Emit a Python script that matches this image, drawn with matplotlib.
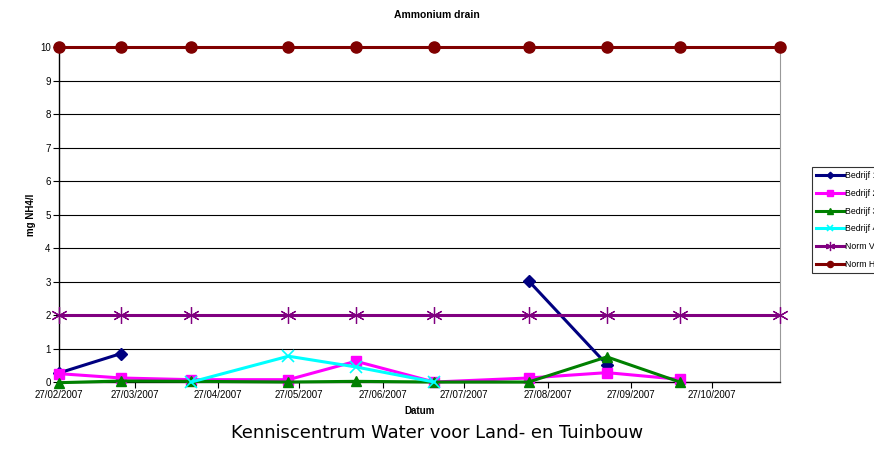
"""
Ammonium drain chart - concentrations per company vs norms.
"""
import matplotlib
matplotlib.use("Agg")
import matplotlib.pyplot as plt
import matplotlib.dates as mdates
import numpy as np
import pandas as pd

dates = ["2007-02-27", "2007-03-22", "2007-04-17", "2007-05-23", "2007-06-17",
         "2007-07-16", "2007-08-20", "2007-09-18", "2007-10-15", "2007-11-21"]
nan = np.nan
bedrijf1 = [0.27, 0.85, nan, nan, nan, nan, 3.02, 0.52, nan, nan]
bedrijf2 = [0.25, 0.12, 0.07, 0.07, 0.62, 0.0, 0.12, 0.28, 0.08, nan]
bedrijf3 = [-0.02, 0.03, 0.02, 0.0, 0.02, 0.0, 0.0, 0.75, 0.0, nan]
bedrijf4 = [nan, nan, 0.0, 0.77, 0.45, 0.0, nan, nan, nan, nan]
norm_v = [2, 2, 2, 2, 2, 2, 2, 2, 2, 2]
norm_h = [10, 10, 10, 10, 10, 10, 10, 10, 10, 10]
labels = ["Bedrijf 1", "Bedrijf 2", "Bedrijf 3", "Bedrijf 4", "Norm VR", "Norm HR"]
tick_dates = ["2007-02-27", "2007-03-27", "2007-04-27", "2007-05-27", "2007-06-27",
              "2007-07-27", "2007-08-27", "2007-09-27", "2007-10-27"]

plt.rcParams["font.family"] = ["Liberation Sans", "DejaVu Sans"]

x = pd.to_datetime(dates)
fig = plt.figure(figsize=(8.74, 4.53), dpi=100)
ax = fig.add_axes([0.0675, 0.1567, 0.8245, 0.7395])

series = [
    (bedrijf1, "#000080", "D", 6, 1.0),
    (bedrijf2, "#ff00ff", "s", 7.5, 1.0),
    (bedrijf3, "#008000", "^", 7.5, 1.0),
    (bedrijf4, "#00ffff", "x", 9, 1.2),
    (norm_v, "#800080", (6, 2, 0), 12, 0.9),
    (norm_h, "#800000", "o", 8, 1.0),
]
handles = []
for (vals, col, mk, ms, mew), lab in zip(series, labels):
    h, = ax.plot(x, vals, color=col, lw=2.2, marker=mk, ms=ms, mew=mew,
                 label=lab, clip_on=False, zorder=3)
    handles.append(h)

ax.set_ylim(0, 10)
ax.set_yticks(range(0, 11))
ax.set_xlim(pd.Timestamp("2007-02-27"), pd.Timestamp("2007-11-21"))
ax.set_xticks(pd.to_datetime(tick_dates))
ax.xaxis.set_major_formatter(mdates.DateFormatter("%d/%m/%Y"))
ax.grid(axis="y", color="black", lw=0.8)
ax.set_axisbelow(True)
ax.tick_params(axis="both", labelsize=7, length=4, width=0.8, pad=2)

ax.spines["top"].set_visible(False)
ax.spines["right"].set_color("#999999")
ax.spines["left"].set_linewidth(1.0)
ax.spines["bottom"].set_linewidth(1.0)

ax.set_xlabel("Datum", fontsize=7, fontweight="bold", labelpad=4)
ax.set_ylabel("mg NH4/l", fontsize=7, fontweight="bold", labelpad=-2)
ax.yaxis.set_label_coords(-0.032, 0.5)
fig.text(0.5, 0.966, "Ammonium drain", ha="center", va="center",
         fontsize=7.5, fontweight="bold")

# legend runs past the right edge, as in the original export
leg = fig.legend(handles=handles, labels=labels, loc="upper left",
                 bbox_to_anchor=(0.929, 0.632), fontsize=6.3, frameon=True,
                 fancybox=False, edgecolor="black", handlelength=3.2,
                 handletextpad=0.1, borderpad=0.5, labelspacing=1.0,
                 markerscale=0.55, borderaxespad=0)
leg.get_frame().set_linewidth(0.8)

fig.text(0.5, 0.044, "Kenniscentrum Water voor Land- en Tuinbouw",
         ha="center", va="center", fontsize=12.9, family="DejaVu Sans")

fig.savefig("out.png", dpi=100)
plt.close(fig)
